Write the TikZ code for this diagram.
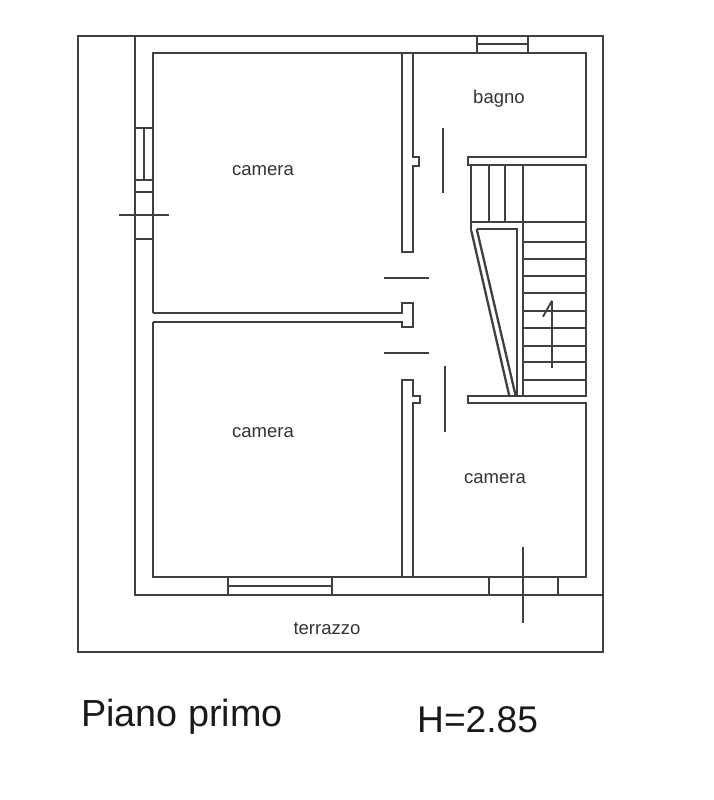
\documentclass[tikz,border=0pt]{standalone}
\usepackage{fontspec}
\setmainfont{Liberation Sans}
\definecolor{wall}{gray}{0.25}
\tikzset{
  wallline/.style={draw=wall,line width=1.9bp,line cap=square,line join=miter},
  thinline/.style={draw=wall,line width=1.9bp,line cap=butt},
  roomlabel/.style={inner sep=0pt,text=black!80,font=\fontsize{18.6}{20}\selectfont},
  titlelabel/.style={inner sep=0pt,text=black!90,anchor=base west,font=\fontsize{37.9}{40}\selectfont},
  quotalabel/.style={inner sep=0pt,text=black!90,anchor=base west,font=\fontsize{37.3}{40}\selectfont}
}
\begin{document}
\begin{tikzpicture}[x=1bp,y=-1bp]
\useasboundingbox (0,0) rectangle (714,800);
% outer boundary
\draw[wallline] (78,36) rectangle (603,652);
\draw[wallline] (135,36) -- (135,594.7) -- (603,594.7);
% inner perimeter
\draw[wallline] (152.7,313) -- (152.7,53.3) -- (585.7,53.3) -- (585.7,157.3) -- (468.3,157.3) -- (468.3,165.3) -- (585.7,165.3) -- (585.7,396) -- (468.3,396) -- (468.3,403.3) -- (585.7,403.3) -- (585.7,576.7) -- (152.7,576.7) -- (152.7,322);
% left windows
\draw[wallline] (135,128) -- (152.7,128);
\draw[wallline] (135,180) -- (152.7,180);
\draw[wallline] (135,191.7) -- (152.7,191.7);
\draw[wallline] (135,239) -- (152.7,239);
\draw[wallline] (143.8,128) -- (143.8,180);
\draw[thinline] (118.7,215) -- (169.3,215);
% top window
\draw[wallline] (477.3,36) -- (477.3,53.3);
\draw[wallline] (528.3,36) -- (528.3,53.3);
\draw[wallline] (477.3,44.3) -- (528.3,44.3);
% bottom windows
\draw[wallline] (227.7,576.7) -- (227.7,594.7);
\draw[wallline] (332.3,576.7) -- (332.3,594.7);
\draw[wallline] (227.7,585.7) -- (332.3,585.7);
\draw[wallline] (489,576.7) -- (489,594.7);
\draw[wallline] (558,576.7) -- (558,594.7);
\draw[thinline] (522.7,546.7) -- (522.7,623.3);
% partition, upper
\draw[wallline] (402.3,53.3) -- (402.3,251.7) -- (412.7,251.7) -- (412.7,165.7) -- (419.3,165.7) -- (419.3,157.3) -- (412.7,157.3) -- (412.7,53.3);
% partition, centre stub and horizontal wall
\draw[wallline] (152.7,313) -- (402.3,313) -- (402.3,303.3) -- (412.7,303.3) -- (412.7,327.3) -- (402.3,327.3) -- (402.3,322) -- (152.7,322);
% partition, lower
\draw[wallline] (402.3,576.7) -- (402.3,380) -- (412.7,380) -- (412.7,396) -- (420,396) -- (420,403.3) -- (412.7,403.3) -- (412.7,576.7);
% doors
\draw[thinline] (443.3,127.7) -- (443.3,193.3);
\draw[thinline] (445,366) -- (445,431.7);
\draw[thinline] (384,278.3) -- (429.3,278.3);
\draw[thinline] (384,353.3) -- (429.3,353.3);
% stairs
\draw[wallline] (471.3,165.3) -- (471.3,230.7);
\draw[wallline,line width=2.3bp,line cap=butt] (471.3,230.7) -- (509.3,396);
\draw[wallline] (488.7,165.3) -- (488.7,222.3);
\draw[wallline] (505.3,165.3) -- (505.3,222.3);
\draw[wallline] (522.7,165.3) -- (522.7,396);
\draw[wallline] (476.7,229) -- (517,229) -- (517,396);
\draw[wallline,line width=2.3bp,line cap=butt] (476.7,229) -- (515.7,396);
\foreach \yy in {222.3,241.7,259.3,275.7,293,310.7,328.3,346,362,380}
  \draw[wallline] (522.7,\yy) -- (585.7,\yy);
\draw[wallline] (471.3,222.3) -- (522.7,222.3);
\draw[thinline] (552,300.7) -- (552,368.3);
\draw[thinline] (552,300.7) -- (543,316.7);
% labels
\node[roomlabel] (camA) at (263,170.5) {camera};
\node[roomlabel] (camB) at (263,432.5) {camera};
\node[roomlabel] (camC) at (495,478.5) {camera};
\node[roomlabel] (bagno) at (499,98.5) {bagno};
\node[roomlabel] (terrazzo) at (327,629) {terrazzo};
\node[titlelabel] (piano) at (81,726) {Piano primo};
\node[quotalabel] (quota) at (417,732) {H=2.85};
\end{tikzpicture}
\end{document}
